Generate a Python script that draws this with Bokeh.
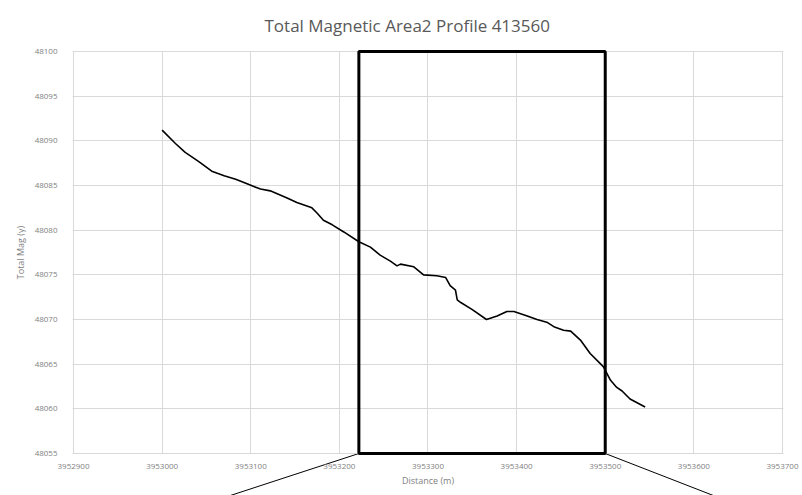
from bokeh.plotting import figure
from bokeh.models import Range1d, SingleIntervalTicker, PolyAnnotation, NumeralTickFormatter
from bokeh.embed import file_html
from bokeh.resources import INLINE

# profile data (distance m, total magnetic field gamma)
distance = [3953000, 3953015, 3953026, 3953041, 3953056, 3953070, 3953083, 3953098,
            3953111, 3953122, 3953141, 3953152, 3953169, 3953175, 3953182, 3953192,
            3953205, 3953222, 3953235, 3953246, 3953258, 3953265, 3953269, 3953284,
            3953295, 3953310, 3953320, 3953325, 3953331, 3953333, 3953337, 3953350,
            3953366, 3953378, 3953389, 3953397, 3953412, 3953423, 3953434, 3953442,
            3953453, 3953461, 3953472, 3953483, 3953495, 3953498, 3953506, 3953513,
            3953519, 3953528, 3953545]
total_mag = [48091.2, 48089.7, 48088.7, 48087.7, 48086.6, 48086.1, 48085.7, 48085.1,
             48084.6, 48084.4, 48083.6, 48083.1, 48082.5, 48081.9, 48081.1, 48080.6,
             48079.8, 48078.7, 48078.1, 48077.2, 48076.5, 48076.0, 48076.2, 48075.9,
             48075.0, 48074.9, 48074.7, 48073.8, 48073.3, 48072.2, 48071.9, 48071.1,
             48070.0, 48070.4, 48070.9, 48070.9, 48070.4, 48070.0, 48069.7, 48069.2,
             48068.8, 48068.7, 48067.7, 48066.2, 48065.0, 48064.7, 48063.2, 48062.4,
             48062.0, 48061.1, 48060.2]

# axis extents
x_min, x_max, x_step = 3952900, 3953700, 100
y_min, y_max, y_step = 48055, 48100, 5
# visible drawing area (wider than the axes so labels and zoom lines fit)
x_view = (3952817.6, 3953722.6)
y_view = (48050.3, 48101.23)

# highlight box (data units) and zoom lines going down to the detail view
box_x = [3953222, 3953500, 3953500, 3953222]
box_y = [48055, 48055, 48100, 48100]
zoom_xs = [[3953222, 3953077], [3953500, 3953622]]
zoom_ys = [[48055, 48050.3], [48055, 48050.3]]

title_text = "Total Magnetic Area2 Profile 413560"
x_label = "Distance (m)"
y_label = "Total Mag (\u03b3)"

GRID = "#d9d9d9"
TXT = "#7f7f7f"
FONT = "Open Sans"

p = figure(width=802, height=495, output_backend="svg", toolbar_location=None,
           x_range=Range1d(*x_view), y_range=Range1d(*y_view),
           min_border_left=0, min_border_right=0, min_border_top=40, min_border_bottom=0)

p.title.text = title_text
p.title.align = "left"
p.title.offset = 264
p.title.text_font = FONT
p.title.text_font_size = "17px"
p.title.text_font_style = "normal"
p.title.text_color = "#595959"
p.title.standoff = 7

p.outline_line_color = None
p.background_fill_color = "white"
p.border_fill_color = "white"

for ax in (p.xaxis[0], p.yaxis[0]):
    ax.major_tick_line_color = None
    ax.minor_tick_line_color = None
    ax.axis_line_color = GRID
    ax.major_label_text_font = FONT
    ax.major_label_text_font_size = "8px"
    ax.major_label_text_color = TXT
    ax.axis_label_text_font = FONT
    ax.axis_label_text_font_size = "9px"
    ax.axis_label_text_font_style = "normal"
    ax.axis_label_text_color = TXT

p.xaxis.fixed_location = y_min
p.yaxis.fixed_location = x_min
p.xaxis.bounds = (x_min, x_max)
p.yaxis.bounds = (y_min, y_max)
p.xaxis.ticker = SingleIntervalTicker(interval=x_step)
p.yaxis.ticker = SingleIntervalTicker(interval=y_step)
p.xaxis.formatter = NumeralTickFormatter(format="0")
p.yaxis.formatter = NumeralTickFormatter(format="0")
p.xaxis.axis_label = x_label
p.yaxis.axis_label = y_label
p.xaxis.major_label_standoff = 4
p.yaxis.major_label_standoff = 10
p.xaxis.axis_label_standoff = 2
p.yaxis.axis_label_standoff = 5

p.xgrid.grid_line_color = GRID
p.ygrid.grid_line_color = GRID
p.xgrid.ticker = SingleIntervalTicker(interval=x_step)
p.ygrid.ticker = SingleIntervalTicker(interval=y_step)
p.xgrid.bounds = (x_min, x_max)
p.ygrid.bounds = (y_min, y_max)

# white bands outside the plot area so the grid stops at the axes
p.quad(left=[x_view[0], x_max + 1, x_view[0], x_view[0]],
       right=[x_min - 1, x_view[1], x_view[1], x_view[1]],
       bottom=[y_view[0], y_view[0], y_view[0], y_max + 0.06],
       top=[y_view[1], y_view[1], y_min - 0.06, y_view[1]],
       fill_color="white", line_color=None)

p.line(distance, total_mag, line_color="black", line_width=1.6)
p.multi_line(zoom_xs, zoom_ys, line_color="black", line_width=1)

p.add_layout(PolyAnnotation(xs=box_x, ys=box_y, fill_color=None, fill_alpha=0,
                            line_color="black", line_alpha=1, line_width=3))

open("out.html", "w").write(file_html(p, INLINE))
